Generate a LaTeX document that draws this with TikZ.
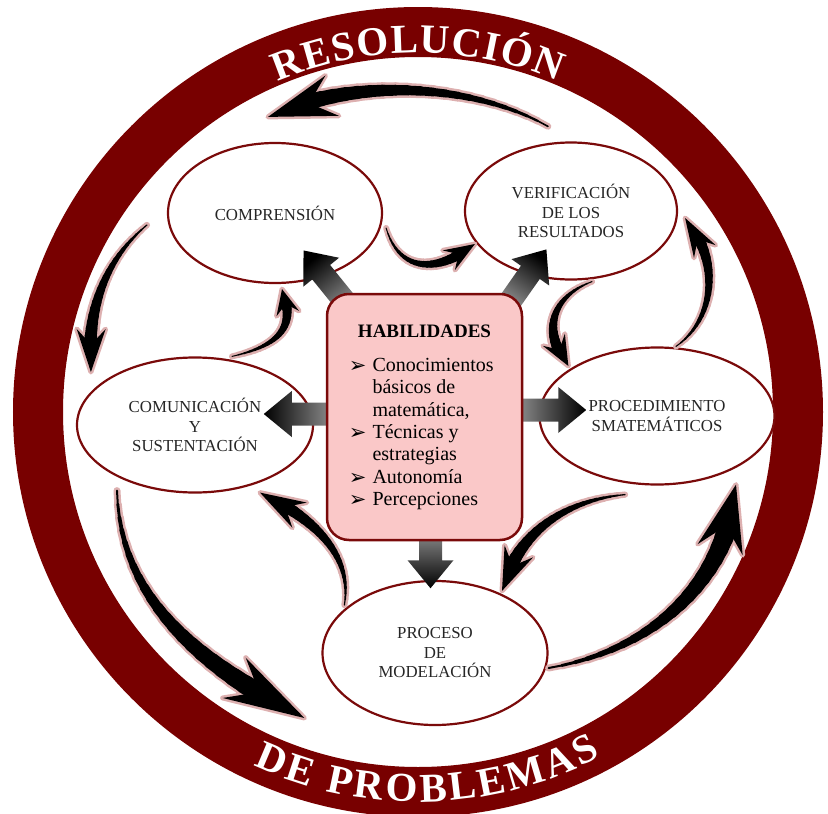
\documentclass[tikz,border=0pt]{standalone}
\usepackage{fontspec}
\setmainfont{Liberation Serif}
\newfontfamily\symfont{DejaVu Sans}
\usepackage{tikz}
\usetikzlibrary{shapes.geometric,positioning,calc,decorations.text}
\definecolor{ringRed}{HTML}{780000}
\definecolor{lineRed}{HTML}{7A0A0A}
\definecolor{boxPink}{HTML}{FAC8C8}
\definecolor{haloPink}{HTML}{DDB0B0}
\pgfdeclarelayer{front}
\pgfsetlayers{main,front}

\newcommand{\titlefont}{\bfseries\fontsize{41}{41}\selectfont}
\newcommand{\habbul}{\raisebox{-1pt}{\symfont\fontsize{21}{21}\selectfont ➢}}

\tikzset{
  stage/.style={ellipse,draw=lineRed,line width=2.2pt,fill=white,align=center,inner sep=0pt,
    text=black!85,font=\fontsize{16.8}{19.5}\selectfont},
  habbox/.style={draw=lineRed,line width=2.5pt,fill=boxPink,rounded corners=22pt,
    minimum width=195pt,minimum height=246pt},
  halo/.style={draw=haloPink,line cap=round},
  arctext/.style={decorate,decoration={text along path,text align={fit to path},
    text color=white,text={|\titlefont|#1}}}
}

% tapered curved arrow: start, control 1, control 2, end, max width, head half width
\newcommand{\swoosh}[6]{%
  \path #1 coordinate (wa) #4 coordinate (wt);
  \path (wa) .. controls #2 and #3 .. (wt)
    coordinate[pos=0.78] (wb)
    \foreach \k [evaluate=\k as \p using 0.84*\k/20] in {0,...,20} {coordinate[pos=\p] (w\k)};
  \foreach \k [count=\j from 1, evaluate=\k as \lw using #5*(0.1+0.9*\k/20)+5] in {0,...,19}
    {\draw[halo,line width=\lw] (w\k) -- (w\j);}
  \draw[halo,line width=5pt,line join=round] (wt) -- ($(wb)!#6!105:(wt)$) -- ($(wb)!0.3!(wt)$) -- ($(wb)!#6!-105:(wt)$) -- cycle;
  \foreach \k [count=\j from 1, evaluate=\k as \lw using #5*(0.1+0.9*\k/20)] in {0,...,19}
    {\draw[black,line cap=round,line width=\lw] (w\k) -- (w\j);}
  \fill[black] (wt) -- ($(wb)!#6!105:(wt)$) -- ($(wb)!0.3!(wt)$) -- ($(wb)!#6!-105:(wt)$) -- cycle;
}

% straight block arrow: start, direction, length
\newcommand{\blockarr}[3]{%
  \begin{scope}[shift={#1},rotate=#2]
    \pgfmathsetmacro{\shang}{#2-90}
    \shade[top color=black,bottom color=black!40,shading angle=\shang]
      (0,-11.5) -- (#3-28,-11.5) -- (#3-28,-23) -- (#3,0) -- (#3-28,23) -- (#3-28,11.5) -- (0,11.5) -- cycle;
  \end{scope}}

\begin{document}
\begin{tikzpicture}[x=1pt,y=-1pt]
\useasboundingbox (0,0) rectangle (828,814);
\coordinate (ctr) at (418,412);

% outer ring with the title
\draw[ringRed,line width=50pt] (ctr) circle[radius=380];
\path[arctext=RESOLUCIÓN] ($(ctr)+(-113:359)$) arc[start angle=-113,end angle=-67,radius=359];
\path[arctext=DE PROBLEMAS] ($(ctr)+(115:390)$) arc[start angle=115,end angle=62,radius=390];

% stages
\node[stage,minimum width=214pt,minimum height=140pt] (comp) at (275,213) {COMPRENSIÓN};
\node[stage,minimum width=212pt,minimum height=137pt] (verif) at (571,211) {VERIFICACIÓN\\DE LOS\\RESULTADOS};
\node[stage,minimum width=236pt,minimum height=135pt] (comu) at (195,425) {COMUNICACIÓN\\Y\\SUSTENTACIÓN};
\node[stage,minimum width=235pt,minimum height=137pt] (proc) at (657,416) {PROCEDIMIENTO\\SMATEMÁTICOS};
\node[stage,minimum width=225pt,minimum height=144pt] (mod) at (435,653) {PROCESO\\DE\\MODELACIÓN};

% central box
\begin{pgfonlayer}{front}
\node[habbox] (hab) at (424.5,417) {};
\node[font=\bfseries\fontsize{19}{22}\selectfont,inner sep=0pt,below=32pt of hab.north] (habt) {HABILIDADES};
\node[font=\fontsize{20}{22.3}\selectfont,inner sep=0pt,anchor=north west] (habl) at ($(hab.north west)+(23,63)$)
  {\begin{tabular}{@{}l@{\hspace{6pt}}l@{}}
   \habbul & Conocimientos\\
           & básicos de\\
           & matemática,\\
   \habbul & Técnicas y\\
           & estrategias\\
   \habbul & Autonomía\\
   \habbul & Percepciones
   \end{tabular}};
\end{pgfonlayer}

% arrows out of the box
\blockarr{($(hab.west)+(12,-3)$)}{180}{74}
\blockarr{($(hab.east)+(-12,-7)$)}{0}{75}
\blockarr{($(hab.south)+(6,-15)$)}{-90}{62}
\blockarr{($(hab.north west)+(25,16)$)}{129}{75}
\blockarr{($(hab.north east)+(-17,14)$)}{55}{70}

% cycle arrows
\swoosh{($(verif.north)+(-23,-15)$)}{(470,82)}{(350,78)}{($(comp.north)+(-7,-25)$)}{16}{22pt}
\swoosh{($(comp.west)+(-20,12)$)}{(105,260)}{(86,310)}{($(comu.west)+(15,-53)$)}{13}{15pt}
\swoosh{($(comp.east)+(3,15)$)}{(400,275)}{(440,272)}{($(verif.west)+(11,33)$)}{10}{12pt}
\swoosh{($(comu.north)+(37,0)$)}{(282,345)}{(296,325)}{($(comp.south)+(7,5)$)}{10}{12pt}
\swoosh{($(proc.north)+(19,0)$)}{(714,320)}{(722,262)}{($(verif.east)+(7,7)$)}{11}{13pt}
\swoosh{($(verif.south)+(21,1)$)}{(553,296)}{(540,330)}{($(proc.west)+(30,-50)$)}{11}{13pt}
\swoosh{($(comu.south)+(-78,-3)$)}{(120,600)}{(200,665)}{($(mod.west)+(-17,65)$)}{20}{24pt}
\swoosh{($(mod.west)+(23,-48)$)}{(352,560)}{(322,522)}{($(comu.south)+(65,-1)$)}{12}{15pt}
\swoosh{($(proc.south)+(-32,9)$)}{(568,500)}{(518,530)}{($(mod.north)+(67,11)$)}{13}{16pt}
\swoosh{($(mod.east)+(0,15)$)}{(655,650)}{(728,580)}{($(proc.south)+(79,-1)$)}{20}{24pt}
\end{tikzpicture}
\end{document}
